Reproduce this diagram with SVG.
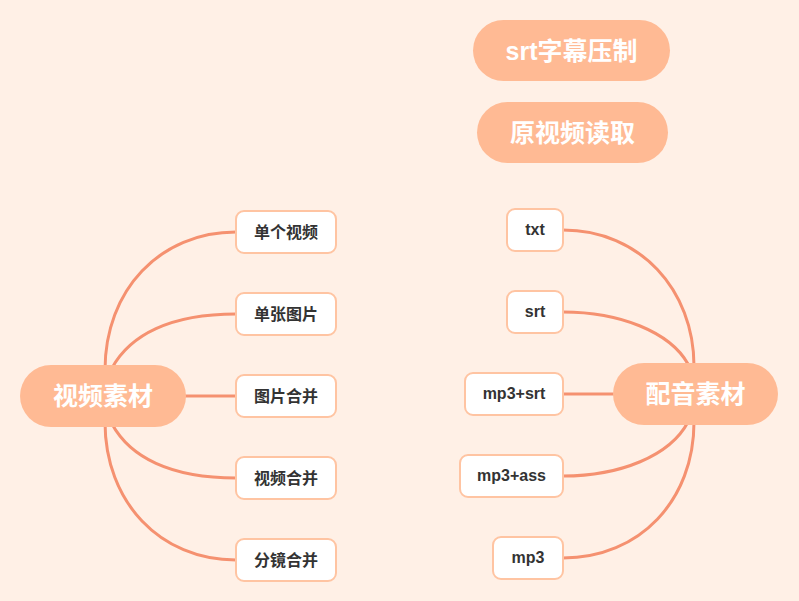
<svg xmlns="http://www.w3.org/2000/svg" width="799" height="601" viewBox="0 0 799 601">
  <style>
    .pill { fill: #FFBA94; }
    .pill-text { fill: #FFFFFF; font-family: "Liberation Sans", "Noto Sans CJK SC", sans-serif; font-weight: bold; font-size: 25px; text-anchor: middle; dominant-baseline: central; }
    .leaf { fill: #FFFFFF; stroke: #FFC4A2; stroke-width: 2; }
    .leaf-text { fill: #333333; font-family: "Liberation Sans", "Noto Sans CJK SC", sans-serif; font-weight: bold; font-size: 16px; text-anchor: middle; dominant-baseline: central; }
    .link { fill: none; stroke: #F59170; stroke-width: 3; stroke-linecap: round; }
  </style>
  <rect x="0" y="0" width="799" height="601" fill="#FFF0E6"/>

  <!-- connectors -->
  <g id="connectors">
    <path class="link" d="M105,370 C105,290 160,232 236,232"/>
    <path class="link" d="M112,368 C130,335 170,314 236,314"/>
    <path class="link" d="M185,396 L236,396"/>
    <path class="link" d="M112,424 C130,457 170,478 236,478"/>
    <path class="link" d="M105,422 C105,502 160,560 236,560"/>

    <path class="link" d="M563,230 C640,230 694,290 694,366"/>
    <path class="link" d="M563,312 C620,312 670,332 688,364"/>
    <path class="link" d="M563,394 L613,394"/>
    <path class="link" d="M563,476 C620,476 670,456 688,422"/>
    <path class="link" d="M563,558 C640,558 694,500 694,422"/>
  </g>

  <!-- standalone topics -->
  <g id="node-srt-burn">
    <rect class="pill" x="473" y="20" width="197" height="61" rx="30.5"/>
    <text class="pill-text" x="571.5" y="50.5">srt字幕压制</text>
  </g>
  <g id="node-source-read">
    <rect class="pill" x="477" y="102" width="191" height="61" rx="30.5"/>
    <text class="pill-text" x="572.5" y="132.5">原视频读取</text>
  </g>

  <!-- video materials -->
  <g id="node-video">
    <rect class="pill" x="20" y="365" width="166" height="62" rx="31"/>
    <text class="pill-text" x="103" y="396">视频素材</text>
  </g>
  <g id="node-single-video">
    <rect class="leaf" x="236" y="211" width="100" height="42" rx="8"/>
    <text class="leaf-text" x="286" y="232">单个视频</text>
  </g>
  <g id="node-single-image">
    <rect class="leaf" x="236" y="293" width="100" height="42" rx="8"/>
    <text class="leaf-text" x="286" y="314">单张图片</text>
  </g>
  <g id="node-image-merge">
    <rect class="leaf" x="236" y="375" width="100" height="42" rx="8"/>
    <text class="leaf-text" x="286" y="396">图片合并</text>
  </g>
  <g id="node-video-merge">
    <rect class="leaf" x="236" y="457" width="100" height="42" rx="8"/>
    <text class="leaf-text" x="286" y="478">视频合并</text>
  </g>
  <g id="node-shot-merge">
    <rect class="leaf" x="236" y="539" width="100" height="42" rx="8"/>
    <text class="leaf-text" x="286" y="560">分镜合并</text>
  </g>

  <!-- audio materials -->
  <g id="node-audio">
    <rect class="pill" x="613" y="363" width="165" height="62" rx="31"/>
    <text class="pill-text" x="695.5" y="394">配音素材</text>
  </g>
  <g id="node-txt">
    <rect class="leaf" x="507" y="209" width="56" height="42" rx="8"/>
    <text class="leaf-text" x="535" y="229">txt</text>
  </g>
  <g id="node-srt">
    <rect class="leaf" x="507" y="291" width="56" height="42" rx="8"/>
    <text class="leaf-text" x="535" y="311">srt</text>
  </g>
  <g id="node-mp3-srt">
    <rect class="leaf" x="465" y="373" width="98" height="42" rx="8"/>
    <text class="leaf-text" x="514" y="393">mp3+srt</text>
  </g>
  <g id="node-mp3-ass">
    <rect class="leaf" x="460" y="455" width="103" height="42" rx="8"/>
    <text class="leaf-text" x="511.5" y="475">mp3+ass</text>
  </g>
  <g id="node-mp3">
    <rect class="leaf" x="493" y="537" width="70" height="42" rx="8"/>
    <text class="leaf-text" x="528" y="557">mp3</text>
  </g>
</svg>
